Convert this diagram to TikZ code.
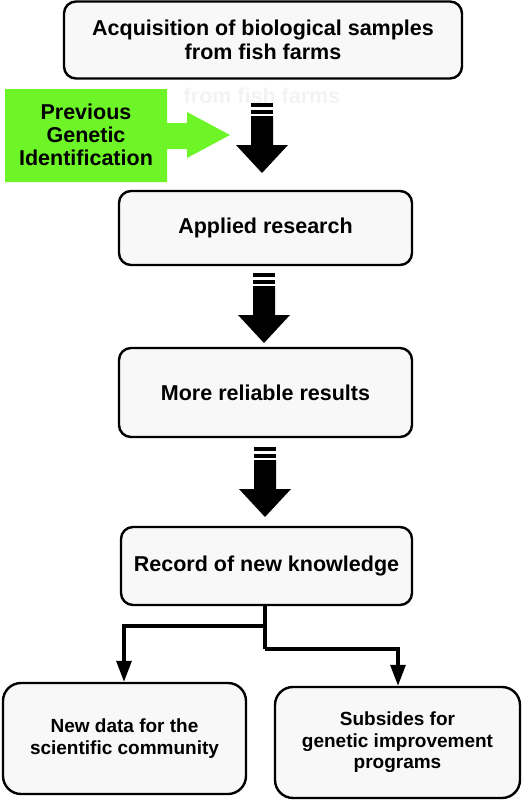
\documentclass[tikz,border=0pt]{standalone}
\usepackage{fontspec}
\setmainfont{Liberation Sans}
\usetikzlibrary{arrows.meta}
\definecolor{boxfill}{RGB}{248,248,248}
\definecolor{limegreen}{RGB}{110,245,40}
\definecolor{ghost}{RGB}{243,243,243}
\tikzset{
  mainbox/.style={draw=black, line width=2.4pt, fill=boxfill, rounded corners=12pt,
    inner sep=0pt, align=center, font=\bfseries\fontsize{21.5}{24.5}\selectfont},
  leafbox/.style={draw=black, line width=2.4pt, fill=boxfill, rounded corners=18pt,
    inner sep=0pt, align=center, font=\bfseries\fontsize{19}{21.5}\selectfont},
  conn/.style={line width=3.2pt, -{Triangle[width=15pt,length=21pt]}},
  pics/bigarrow/.style={code={
    \fill[black] (-11,0) rectangle (11,4);
    \fill[black] (-11,7) rectangle (11,11);
    \fill[black] (-11,13) -- (11,13) -- (11,42) -- (26,42) -- (0,70) -- (-26,42) -- (-11,42) -- cycle;
  }}
}
\begin{document}
\begin{tikzpicture}[x=1pt,y=-1pt]
\useasboundingbox (0,0) rectangle (526,801);
% ghost text
\node[text=ghost, font=\bfseries\fontsize{21.5}{24.5}\selectfont] (ghosttxt) at (262,96) {from fish farms};
% boxes
\node[mainbox, minimum width=398pt, minimum height=77pt] (acq) at (263,40) {Acquisition of biological samples\\from fish farms};
\node[mainbox, minimum width=293pt, minimum height=74pt] (app) at (265.5,228) {Applied research};
\node[mainbox, minimum width=293pt, minimum height=89pt] (rel) at (265.5,392.5) {More reliable results};
\node[mainbox, minimum width=291pt, minimum height=78pt] (rec) at (266.5,566) {Record of new knowledge};
\node[leafbox, minimum width=243pt, minimum height=111pt] (newd) at (124.5,738.5) {New data for the\\scientific community};
\node[leafbox, minimum width=245pt, minimum height=111pt] (subs) at (397.5,742.5) {Subsides for\\genetic improvement\\programs};
% green arrow
\fill[limegreen] (5,89) -- (167,89) -- (167,123) -- (187,123) -- (187,112) -- (230,135) -- (187,158) -- (187,149) -- (167,149) -- (167,182) -- (5,182) -- cycle;
\node[align=center, font=\bfseries\fontsize{21.5}{23}\selectfont] (prev) at (86,135) {Previous\\Genetic\\Identification};
% block arrows
\pic at (262,103) {bigarrow};
\pic at (264,273) {bigarrow};
\pic at (265,447) {bigarrow};
% connectors
\coordinate (split) at (265,626);
\coordinate (split2) at (265,649);
\draw[line width=3.2pt] (rec.south -| split) -- (split2);
\draw[conn] (split) -| (newd.north -| 124,0);
\draw[conn] (split2) -| (subs.north -| 398,0);
\end{tikzpicture}
\end{document}
